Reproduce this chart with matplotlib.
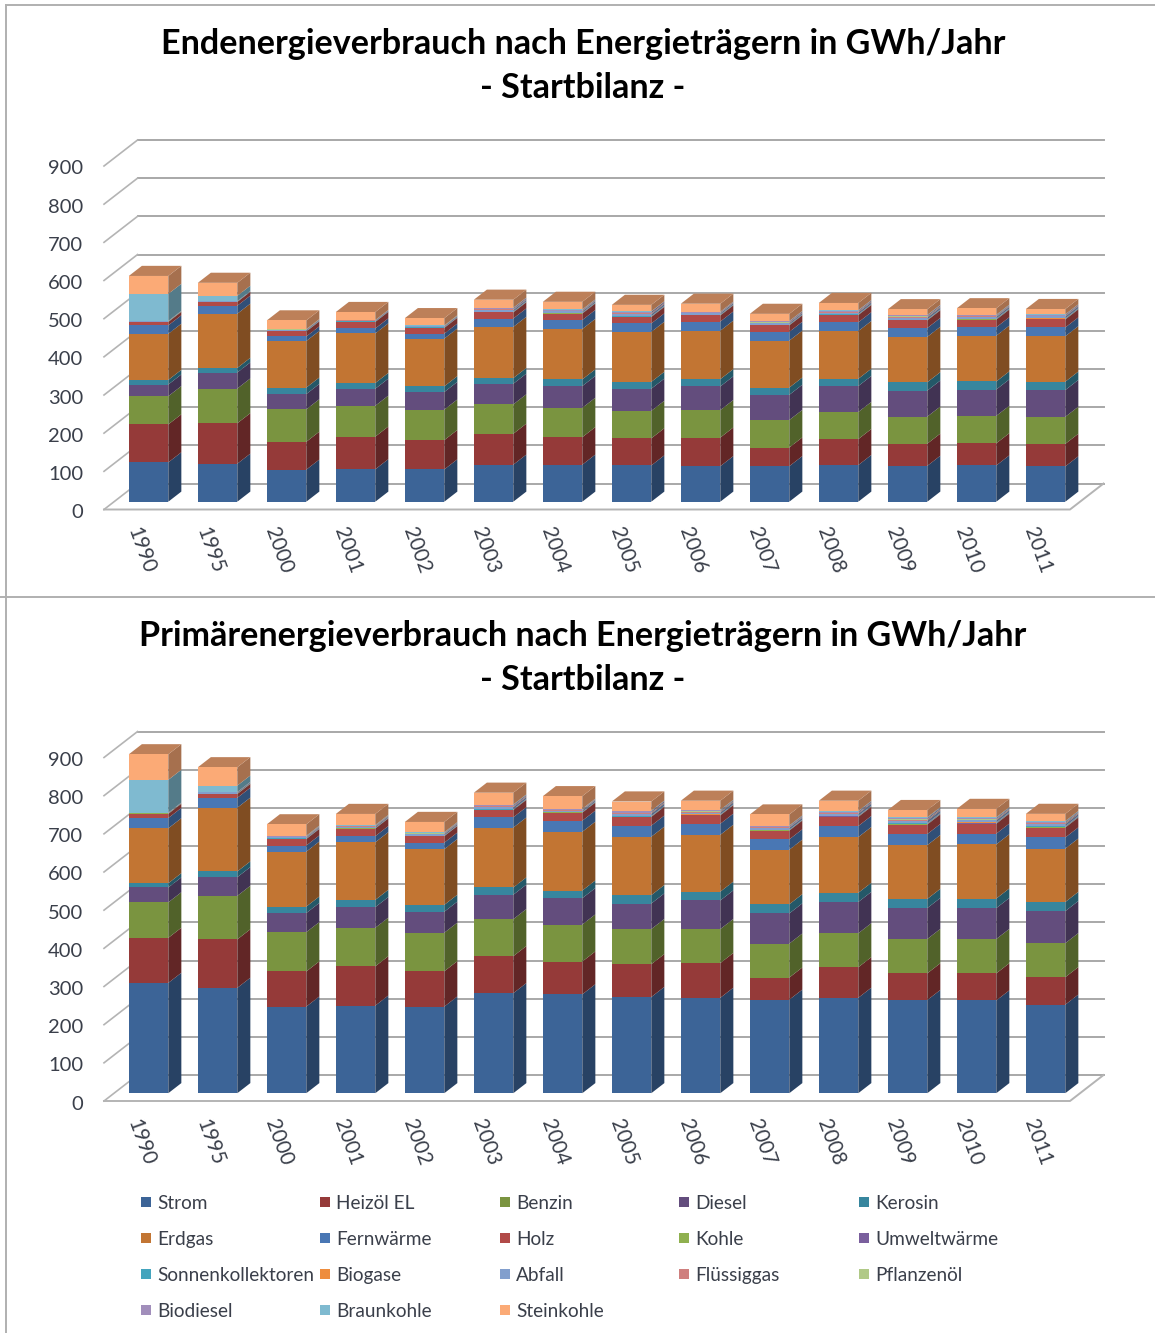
import numpy as np
from matplotlib import pyplot as plt
from matplotlib.colors import to_rgb
from matplotlib.patches import Rectangle
from matplotlib.transforms import ScaledTranslation

plt.rcParams["font.family"] = ["Lato", "DejaVu Sans"]

years = ["1990", "1995", "2000", "2001", "2002", "2003", "2004",
         "2005", "2006", "2007", "2008", "2009", "2010", "2011"]
y_ticks = [0, 100, 200, 300, 400, 500, 600, 700, 800, 900]

names = ["Strom", "Heizöl EL", "Benzin", "Diesel", "Kerosin",
         "Erdgas", "Fernwärme", "Holz", "Kohle", "Umweltwärme",
         "Sonnenkollektoren", "Biogase", "Abfall", "Flüssiggas", "Pflanzenöl",
         "Biodiesel", "Braunkohle", "Steinkohle"]
colors = ["#3c6497", "#953a39", "#7a9440", "#634d7d", "#37869e",
          "#c27533", "#4977b4", "#b14a48", "#8fb04f", "#7a5f9d",
          "#44a4bd", "#ee8d3e", "#829fcd", "#cf7f7e", "#b0c987",
          "#a18ebb", "#7fbad0", "#fbaa76"]

# Endenergie, one list per carrier
end_strom = [103, 99.5, 84, 85, 84.6, 97, 97, 95, 93, 93, 96, 94, 95, 92.5]
end_heizoel = [99.5, 106, 73, 85.5, 76.8, 81, 72, 71, 75, 49, 68, 58, 58, 59]
end_benzin = [74, 91, 85, 81, 80, 77, 77, 72, 72, 72, 71, 71, 72, 71]
end_diesel = [30.5, 42, 40, 44.5, 46, 54, 57, 58, 62, 66, 68, 68, 69, 70]
end_kerosin = [12, 12, 17, 15, 15, 15, 17.5, 18, 19, 19, 19, 22, 21, 22]
end_erdgas = [121, 142, 122, 130, 125, 134, 132, 131, 127, 123, 125, 119, 120, 119]
end_fernw = [22, 21, 12, 13, 13, 22, 23.5, 22, 24, 23, 23, 23, 22, 23]
end_holz = [9, 10, 13, 17, 15, 16, 17, 17, 16, 17, 19, 20, 20, 21]
end_kohle = [1, 0.5, 0.5, 0.5, 0.5, 0.5, 0.5, 0.5, 0.5, 0.5, 0.5, 0.5, 0.5, 0.5]
end_umwelt = [0, 0, 0.5, 0.5, 0.5, 0.5, 0.5, 0.5, 0.5, 0.5, 0.5, 0.5, 0.5, 0.5]
end_sonnen = [0, 0, 0.5, 0.5, 0.5, 1, 1, 1, 1, 1, 1, 1, 1.5, 1.5]
end_biogas = [0, 0, 0, 0, 0, 0.2, 0.2, 0.2, 0.2, 0.2, 0.2, 0.3, 0.3, 0.3]
end_abfall = [1, 1.5, 2.5, 2, 2.5, 4, 3.5, 5, 3.5, 3.5, 4.5, 5, 4.5, 5]
end_fluessig = [0.5, 0, 1, 1, 1, 1.5, 1.5, 2, 1, 1.5, 2, 2, 1.5, 1.5]
end_pflanzen = [0, 0, 0.5, 0, 0.5, 0.5, 0.5, 0.5, 0.5, 0.5, 0.5, 1, 0.5, 0.5]
end_biodiesel = [0, 0, 0, 0, 0, 3, 2, 4, 2, 2.5, 2.5, 3, 2, 2.5]
end_braun = [71, 14, 0.5, 0.5, 1, 1, 1, 1, 0.5, 1, 1, 1, 1.5, 1]
end_stein = [47, 34, 23, 21, 19, 21, 20, 17, 21, 19, 19, 15, 17, 14]

# Primaerenergie
pri_strom = [289, 276, 227, 229.5, 227, 262, 259, 252, 250, 245, 250, 244, 243, 232]
pri_heizoel = [118, 127, 92, 103, 92.5, 97, 86, 86, 91, 58, 80, 70, 71, 72]
pri_benzin = [93, 114, 103, 101, 101, 97, 97, 92, 89, 89, 89, 90, 90, 89]
pri_diesel = [39, 49, 50, 54, 55, 64, 69, 67, 75, 79, 82, 81, 81, 84]
pri_kerosin = [11, 15, 17, 19, 18, 19, 20, 22, 23, 24, 24, 24, 25, 24]
pri_erdgas = [144, 167, 144, 151, 146, 157, 154, 153, 149, 143, 146, 141, 142, 140]
pri_fernw = [27, 26, 16, 16, 17, 27, 29, 29, 29, 27, 29, 29, 28, 29]
pri_holz = [11, 10, 17, 20, 17, 19, 21, 23, 22, 23, 24, 25, 26, 26]
pri_kohle = [1, 1, 0.5, 0.5, 0.5, 0.5, 0.5, 0.5, 0.5, 0.5, 0.5, 0.5, 0.5, 0.5]
pri_umwelt = [0, 0, 0.5, 0.5, 0.5, 0.5, 0.5, 0.5, 0.5, 0.5, 1, 1, 1, 1]
pri_sonnen = [0, 0, 0.5, 0.5, 0.5, 1, 1, 1, 1, 1, 1, 1.5, 1.5, 1.5]
pri_biogas = [0, 0, 0, 0.2, 0.2, 0.3, 0.2, 0.3, 0.3, 0.3, 0.3, 0.4, 0.4, 0.4]
pri_abfall = [1.5, 3, 2.5, 3, 3.5, 5, 3.5, 6, 5, 5, 5.5, 6.5, 5.5, 5.5]
pri_fluessig = [0.5, 1, 1.5, 1.5, 1.5, 2, 1.5, 2, 2, 1.5, 2, 2.5, 2, 2.5]
pri_pflanzen = [0, 0, 0.5, 0.5, 0.5, 0.5, 0.5, 1, 1, 0.5, 0.5, 1, 1, 1]
pri_biodiesel = [0, 0, 1, 1, 1.5, 3, 1.5, 3.5, 2.5, 2.5, 3, 3.5, 3, 2.5]
pri_braun = [86, 17, 1.5, 1.5, 1.5, 1.5, 1, 1.5, 1.5, 1.5, 1.5, 2, 2, 2]
pri_stein = [67, 48, 30, 29, 27, 31, 33, 24, 24, 29, 27, 19, 22, 19]

end_series = [end_strom, end_heizoel, end_benzin, end_diesel, end_kerosin, end_erdgas,
              end_fernw, end_holz, end_kohle, end_umwelt, end_sonnen, end_biogas,
              end_abfall, end_fluessig, end_pflanzen, end_biodiesel, end_braun, end_stein]
pri_series = [pri_strom, pri_heizoel, pri_benzin, pri_diesel, pri_kerosin, pri_erdgas,
              pri_fernw, pri_holz, pri_kohle, pri_umwelt, pri_sonnen, pri_biogas,
              pri_abfall, pri_fluessig, pri_pflanzen, pri_biodiesel, pri_braun, pri_stein]

W, H = 1155, 1333
fig = plt.figure(figsize=(W / 100, H / 100), dpi=100)

# fake 3d: a point at depth d is moved by d*DX categories and d*DY value units
DX = 33.5 / 69
DY = 68
D_FRONT = 0.3
D_BACK = 0.69
BAR_W = 0.572
GRID = "#a8a8a8"
TEXT = "#3a3f4a"


def shade(c, f):
    return tuple(v * f for v in to_rgb(c))


def draw_chart(top_px, floor_px, series, title, title_y):
    ax = fig.add_axes([104 / W, 1 - floor_px / H, 966 / W, (floor_px - top_px) / H])
    ax.set_xlim(0, 14)
    ax.set_ylim(0, 900)
    for s in ax.spines.values():
        s.set_visible(False)
    ax.patch.set_alpha(0)

    # walls and floor
    for v in y_ticks:
        ax.plot([DX, 14 + DX], [v + DY, v + DY], color=GRID, lw=1.4, zorder=1, clip_on=False)
        ax.plot([0, DX], [v, v + DY], color="#b4b4b4", lw=1.2, zorder=1, clip_on=False)
    ax.plot([0, 14, 14 + DX], [0, 0, DY], color="#b4b4b4", lw=1.4, zorder=1, clip_on=False)

    x = np.arange(14) + 0.5
    x_front = x + D_FRONT * DX
    dx = (D_BACK - D_FRONT) * DX
    dy = (D_BACK - D_FRONT) * DY
    base = np.full(14, D_FRONT * DY)
    for vals, c in zip(series, colors):
        vals = np.array(vals, dtype=float)
        ax.bar(x_front, vals, BAR_W, bottom=base, color=c, zorder=3, clip_on=False)
        for xf, b, v in zip(x_front, base, vals):
            if v > 0:
                r = xf + BAR_W / 2
                ax.fill([r, r + dx, r + dx, r], [b, b + dy, b + v + dy, b + v],
                        color=shade(c, 0.66), lw=0, zorder=2, clip_on=False)
        base = base + vals

    # bar lids
    for xf, b in zip(x_front, base):
        l, r = xf - BAR_W / 2, xf + BAR_W / 2
        ax.fill([l, r, r + dx, l + dx], [b, b, b + dy, b + dy],
                color="#bd8059", lw=0, zorder=2, clip_on=False)

    ax.set_yticks(y_ticks)
    ax.set_yticklabels([str(v) for v in y_ticks], fontsize=14.5, color=TEXT)
    ax.tick_params(axis="y", length=0, pad=15)
    down = ScaledTranslation(0, -1.5 / 72 * 72 / 100, fig.dpi_scale_trans)
    for lab in ax.get_yticklabels():
        lab.set_transform(lab.get_transform() + down)
    ax.set_xticks(x + 0.04)
    ax.set_xticklabels(years, rotation=-70, ha="center", va="top", fontsize=14.8, color=TEXT)
    ax.tick_params(axis="x", length=0, pad=11)

    for line, yy in zip([title, "- Startbilanz -"], title_y):
        fig.text(583 / W, 1 - yy / H, line, ha="center", va="center",
                 fontsize=24.6, fontweight="bold", color="black")


draw_chart(166, 509.5, end_series,
           "Endenergieverbrauch nach Energieträgern in GWh/Jahr", [44, 88])
draw_chart(757.5, 1101, pri_series,
           "Primärenergieverbrauch nach Energieträgern in GWh/Jahr", [636, 680])

# overlay in pixel coordinates for the panel frame and the legend
over = fig.add_axes([0, 0, 1, 1], zorder=5)
over.set_xlim(0, W)
over.set_ylim(H, 0)
over.axis("off")
over.plot([6, 6], [5, H], color="#b0b0b0", lw=1.4)
over.plot([6, W], [5, 5], color="#b0b0b0", lw=1.4)
over.plot([0, W], [597, 597], color="#b0b0b0", lw=1.4)

col_px = [141, 320, 500, 679, 859]
row_px = [1202, 1238, 1274, 1310]
for i, (name, c) in enumerate(zip(names, colors)):
    xp = col_px[i % 5]
    yp = row_px[i // 5]
    over.add_patch(Rectangle((xp, yp - 5), 10, 10, color=c, lw=0))
    over.text(xp + 16, yp + 1.5, name, va="center", ha="left", fontsize=13.7, color=TEXT)

fig.savefig("out.png", dpi=100)
